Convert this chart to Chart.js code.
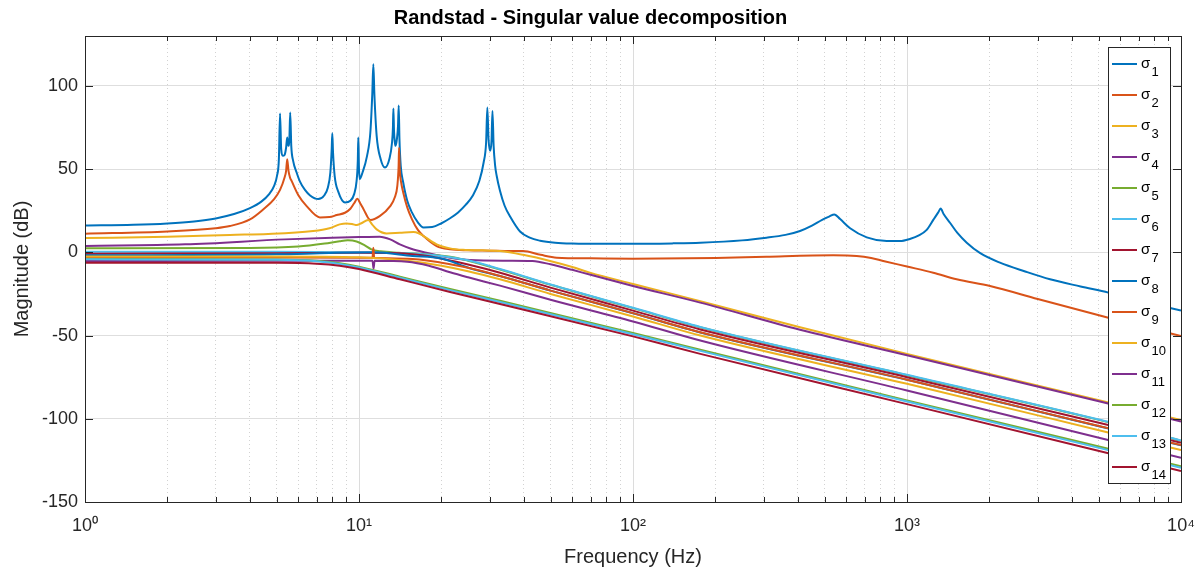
<!DOCTYPE html>
<html>
<head>
<meta charset="utf-8">
<title>Randstad - Singular value decomposition</title>
<script src="https://cdn.jsdelivr.net/npm/chart.js@4.4.1/dist/chart.umd.min.js"></script>
<style>
  html, body { margin: 0; padding: 0; background: #fff; }
</style>
</head>
<body>
<canvas id="svdChart" width="1201" height="572"></canvas>
<script>
// singular values (Hz / dB)
const f1 = [1, 1.5, 2, 2.5, 3, 3.5, 4, 4.4, 4.7, 4.9, 5.02, 5.1, 5.15, 5.2, 5.27, 5.35, 5.42, 5.47, 5.52, 5.57, 5.61, 5.66, 5.75, 5.92, 6.09, 6.35, 6.63, 7.1, 7.45, 7.7, 7.86, 7.95, 7.99, 8.04, 8.15, 8.4, 8.89, 9.3, 9.6, 9.8, 9.9, 9.94, 9.99, 10.05, 10.3, 10.7, 11.0, 11.18, 11.28, 11.38, 11.6, 12.0, 12.44, 12.9, 13.2, 13.3, 13.35, 13.42, 13.52, 13.6, 13.75, 13.88, 13.96, 14.05, 14.2, 14.5, 15, 15.6, 16.4, 17.2, 18.5, 20, 21.5, 23, 24.5, 26, 27.5, 28.5, 29.1, 29.4, 29.7, 30.1, 30.45, 30.7, 31.0, 31.4, 31.8, 32.7, 34, 35.6, 38.7, 42, 45.8, 52, 60, 80, 100, 140, 176, 250, 307, 360, 407, 450, 490, 520, 543, 570, 620, 713, 843, 943, 1030, 1100, 1180, 1247, 1300, 1327, 1360, 1435, 1530, 1652, 1850, 2184, 2700, 3327, 4300, 5430, 7000, 10000];
const db1 = [16.2, 16.6, 17.4, 18.6, 20.4, 23.0, 26.6, 30.5, 35, 40, 46, 56, 83.5, 62, 58, 58.5, 63, 69, 64, 68, 84, 64, 55, 48, 42.5, 37.5, 34.2, 32, 34, 39, 48, 62, 71.5, 60, 46, 36.5, 30, 31, 35, 43, 55, 69, 52, 44, 48, 58, 72, 95, 113, 95, 70, 56, 51, 56, 66, 75, 86.5, 73, 66, 64, 68, 76, 88.3, 68, 52, 42, 31, 24, 18, 15, 15.2, 17.5, 20.5, 24, 28.5, 34, 43, 54, 66, 87, 68, 61, 67, 85, 64, 52, 46, 37, 28, 21.5, 12.5, 8.8, 7, 5.8, 5.3, 5.1, 5.1, 5.4, 5.8, 7.2, 8.8, 10.5, 12.8, 16, 19.5, 21.5, 22.8, 20, 14.5, 9, 6.8, 6.8, 8.2, 10, 13.5, 19.5, 24, 26.3, 23, 17.8, 11.5, 5.8, -0.5, -6.2, -11.5, -16.2, -20.5, -24.2, -28.8, -35];

const f2 = [1, 2, 3, 3.38, 4, 4.47, 4.9, 5.15, 5.35, 5.42, 5.47, 5.53, 5.6, 5.68, 6.0, 6.44, 7.2, 7.8, 8.29, 8.89, 9.3, 9.6, 9.86, 10.1, 10.4, 11.0, 11.9, 13.0, 13.5, 13.8, 13.95, 14.0, 14.08, 14.25, 14.5, 15, 15.6, 16.4, 17.2, 19.2, 21.5, 25, 30, 35.6, 39.7, 46, 52.7, 70, 100, 200, 307, 538, 655, 740, 819, 1000, 1247, 1518, 2010, 3000, 5430, 10000];
const db2 = [11.2, 12.6, 14.5, 15.8, 19.8, 25.8, 32, 37.5, 45, 49, 56, 49, 45, 42.8, 34.5, 27.8, 21, 21.2, 22.4, 23.8, 26.2, 29.5, 32.2, 29.5, 25.8, 19.5, 21.8, 27.8, 33, 40, 52, 62.9, 50, 42, 36, 27, 20, 13.5, 9.8, 3.8, 1.8, 1.2, 1.0, 0.8, 0.8, -1.5, -3.2, -3.6, -3.8, -3.4, -2.6, -1.8, -2.2, -3.4, -5.2, -8.5, -12.2, -16.2, -20.2, -28, -39.3, -50.3];

const f3 = [1, 2, 3.38, 4.66, 6.8, 7.8, 8.5, 9.0, 9.5, 9.8, 10.2, 10.8, 11.2, 11.6, 12.6, 14.1, 15.8, 16.5, 17.2, 19.2, 21.5, 24, 28, 32.7, 39.7, 49.8, 60, 69.6, 100, 176, 407, 1000, 5060, 10000];
const db3 = [8.6, 9.4, 10.5, 11, 12.8, 14.5, 16.8, 17.4, 16.9, 16.4, 17.5, 19.4, 16.5, 13.8, 11.4, 11.8, 12.2, 11.5, 9.8, 4.8, 2.4, 1.5, 1.2, 0.8, -1.5, -5.2, -8.8, -12.2, -19, -29.3, -45, -61, -89, -100.8];

const f4 = [1, 2.32, 5.37, 8, 10, 11.9, 13, 14.1, 15.5, 17.6, 19.5, 21.5, 25.4, 35, 43, 50, 60, 70, 100, 176, 407, 1000, 5060, 10000];
const db4 = [3.8, 4.8, 7.8, 8.8, 9.2, 9.4, 7.8, 4.8, 2.2, -0.2, -1.9, -3.2, -4.6, -5.0, -5.2, -7.2, -10.5, -13.5, -20.2, -30.2, -46.5, -61.8, -89.6, -101.6];

const f5 = [1, 4, 6, 7.5, 8.5, 9.1, 9.8, 10.5, 11.1, 12, 14, 17.6, 21.5, 25, 32.7, 50, 100, 176, 1000, 5060, 10000];
const db5 = [2.4, 2.6, 3.5, 5.3, 6.7, 7.2, 6.5, 4.2, 1.8, 0.6, -0.2, -1.2, -2.6, -5, -10.3, -19.5, -33.5, -45, -73.8, -100.8, -113.2];

const f6 = [1, 5, 10, 15, 20, 25, 32.7, 50, 100, 176, 1000, 5060, 10000];
const db6 = [0.4, 0.3, 0, -0.6, -2.2, -4.8, -10, -19.3, -33.3, -44.8, -73.6, -100.6, -113];

const f7 = [1, 5, 10, 14.1, 17, 20, 25, 32.7, 50, 100, 176, 1000, 5060, 10000];
const db7 = [-0.8, -0.6, -0.3, -0.5, -1.8, -3.8, -7.3, -12.2, -21.2, -35, -46.3, -75, -102.5, -114.4];

const f8 = [1, 5, 7.8, 11.3, 15.7, 19.8, 25.4, 32.7, 50, 100, 176, 1000, 5060, 10000];
const db8 = [-1.8, -1.2, -0.4, 0, -2.2, -3.6, -9.5, -14.2, -23, -36.6, -48.1, -76.6, -104.6, -115.9];

const f9 = [1, 5, 10, 11.2, 11.28, 11.36, 15, 20, 25, 32.7, 50, 100, 176, 1000, 5060, 10000];
const db9 = [-3.2, -3.1, -3.2, -3.3, 2.8, -3.3, -3.8, -6.2, -9.3, -14.2, -23, -36.5, -48, -76.5, -104.5, -115.8];

const f10 = [1, 5, 10, 15, 20, 25, 32.7, 50, 100, 176, 1000, 5060, 10000];
const db10 = [-2.5, -2.5, -3, -5, -8, -11.3, -16.2, -25, -38.5, -50, -79, -107, -118.8];

const f11 = [1, 5, 10, 11.2, 11.3, 11.4, 15, 18, 21.5, 25, 32.7, 50, 100, 176, 1000, 5060, 10000];
const db11 = [-5.2, -5.0, -5.0, -5.0, -9.8, -5.0, -5.6, -8, -12, -15, -20, -28.5, -41.5, -53, -83, -111.5, -123.4];

const fLow = [1, 5, 7, 8.5, 10, 14.1, 21.5, 32.7, 100, 176, 1000, 10000];
const db12 = [-4.0, -4.3, -5, -6.5, -8.6, -14.6, -22, -29, -48.5, -58.5, -89, -128.5];
const db13 = [-4.2, -4.5, -5.3, -7, -9.1, -15.2, -22.7, -29.8, -49.2, -59.2, -89.6, -129.4];
const db14 = [-6.2, -6.3, -6.8, -8, -10, -16.2, -23.8, -31, -50.5, -61, -91.2, -131.4];

const freqs = [f1, f2, f3, f4, f5, f6, f7, f8, f9, f10, f11, fLow, fLow, fLow];
const mags = [db1, db2, db3, db4, db5, db6, db7, db8, db9, db10, db11, db12, db13, db14];
const subs = ['1', '2', '3', '4', '5', '6', '7', '8', '9', '10', '11', '12', '13', '14'];
const colors = ['#0072BD', '#D95319', '#EDB120', '#7E2F8E', '#77AC30', '#4DBEEE', '#A2142F'];

const yTicks = [-150, -100, -50, 0, 50, 100];
const xDecades = [1, 10, 100, 1000, 10000];
const xTickLabels = ['10\u2070', '10\u00B9', '10\u00B2', '10\u00B3', '10\u2074'];
const xTickVals = [];
xDecades.forEach((d, i) => {
  if (i == xDecades.length - 1) { xTickVals.push(d); return; }
  for (let k = 1; k < 10; k++) xTickVals.push(d * k);
});

const FONT = '"Liberation Sans", Arial, Helvetica, sans-serif';
const AXC = '#262626';

const datasets = mags.map((m, i) => ({
  label: '\u03C3' + subs[i],
  data: m.map((v, j) => ({ x: freqs[i][j], y: v })),
  borderColor: colors[i % 7],
  borderWidth: 2,
  pointRadius: 0,
  fill: false,
  cubicInterpolationMode: 'monotone',
  order: 13 - i
}));

// box, inner tick marks and the legend inside the axes
const axesBox = {
  id: 'axesBox',
  afterDatasetsDraw(chart) {
    const { ctx, chartArea: a, scales } = chart;
    ctx.save();
    ctx.strokeStyle = AXC;
    ctx.lineWidth = 1;
    ctx.beginPath();
    xTickVals.forEach(v => {
      const px = Math.round(scales.x.getPixelForValue(v)) + 0.5;
      const len = xDecades.includes(v) ? 8 : 5;
      ctx.moveTo(px, a.bottom); ctx.lineTo(px, a.bottom - len);
      ctx.moveTo(px, a.top); ctx.lineTo(px, a.top + len);
    });
    yTicks.forEach(v => {
      const py = Math.round(scales.y.getPixelForValue(v)) + 0.5;
      ctx.moveTo(a.left, py); ctx.lineTo(a.left + 8, py);
      ctx.moveTo(a.right, py); ctx.lineTo(a.right - 8, py);
    });
    ctx.stroke();
    ctx.strokeRect(Math.round(a.left) + 0.5, Math.round(a.top) + 0.5, Math.round(a.width), Math.round(a.height));

    // legend
    const lw = 62, lh = 436;
    const lx = Math.round(a.right) - 11 - lw, ly = Math.round(a.top) + 11;
    ctx.fillStyle = '#fff';
    ctx.fillRect(lx, ly, lw, lh);
    ctx.strokeRect(lx + 0.5, ly + 0.5, lw, lh);
    chart.data.datasets.forEach((ds, i) => {
      const y = ly + 17 + i * 31;
      ctx.strokeStyle = ds.borderColor;
      ctx.lineWidth = 2;
      ctx.beginPath();
      ctx.moveTo(lx + 4, y); ctx.lineTo(lx + 29, y);
      ctx.stroke();
      ctx.fillStyle = '#000';
      ctx.textBaseline = 'alphabetic';
      ctx.textAlign = 'left';
      ctx.font = '15px ' + FONT;
      ctx.fillText('\u03C3', lx + 33, y + 3.5);
      ctx.font = '13px ' + FONT;
      ctx.fillText(subs[i], lx + 43.5, y + 12);
    });
    ctx.restore();
  }
};

new Chart(document.getElementById('svdChart'), {
  type: 'line',
  data: { datasets: datasets },
  options: {
    responsive: false,
    animation: false,
    layout: { padding: { left: 0, right: 20, top: 0, bottom: 0 } },
    plugins: {
      legend: { display: false },
      tooltip: { enabled: false },
      title: {
        display: true,
        text: 'Randstad - Singular value decomposition',
        color: '#000',
        font: { family: FONT, size: 20, weight: 'bold' },
        padding: { top: 6, bottom: 6 }
      }
    },
    scales: {
      x: {
        type: 'logarithmic',
        min: 1,
        max: 10000,
        afterBuildTicks: s => { s.ticks = xTickVals.map(v => ({ value: v, major: xDecades.includes(v) })); },
        afterFit: s => { s.height = 70; s.paddingLeft = 0; s.paddingRight = 0; },
        ticks: {
          autoSkip: false,
          maxRotation: 0,
          padding: 13,
          color: AXC,
          font: { family: FONT, size: 18 },
          callback: v => { const k = xDecades.indexOf(v); return k < 0 ? '' : xTickLabels[k]; }
        },
        grid: {
          drawTicks: false,
          color: c => (c.tick && xDecades.includes(c.tick.value)) ? '#dcdcdc' : '#d2d2d2'
        },
        border: {
          display: false,
          dash: c => (c.tick && !xDecades.includes(c.tick.value)) ? [1, 3] : []
        },
        title: {
          display: true,
          text: 'Frequency (Hz)',
          color: AXC,
          font: { family: FONT, size: 20 },
          padding: { top: 4, bottom: 3 }
        }
      },
      y: {
        min: -150,
        max: 130,
        afterBuildTicks: s => { s.ticks = yTicks.map(v => ({ value: v })); },
        afterFit: s => { s.width = 85; s.paddingTop = 0; s.paddingBottom = 0; },
        ticks: {
          padding: 7,
          color: AXC,
          font: { family: FONT, size: 18 }
        },
        grid: { drawTicks: false, color: '#dedede' },
        border: { display: false },
        title: {
          display: true,
          text: 'Magnitude (dB)',
          color: AXC,
          font: { family: FONT, size: 20 },
          padding: { top: 10, bottom: 0 }
        }
      }
    }
  },
  plugins: [axesBox]
});
</script>
</body>
</html>
